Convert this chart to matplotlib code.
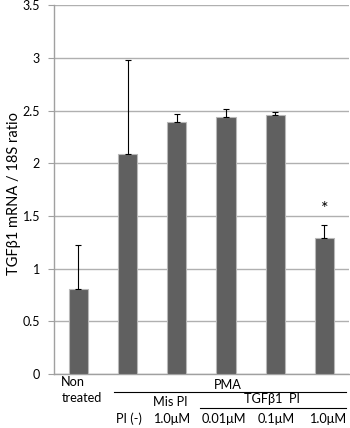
import matplotlib
matplotlib.use("Agg")
import matplotlib.pyplot as plt
import matplotlib.transforms as mtransforms
import numpy as np

plt.rcParams['font.family'] = ['Lato', 'DejaVu Sans']

# values
means = [0.81, 2.09, 2.39, 2.44, 2.46, 1.29]
errs = [0.41, 0.89, 0.08, 0.07, 0.03, 0.12]
dose_labels = ["PI (-)", "1.0\u03bcM", "0.01\u03bcM", "0.1\u03bcM", "1.0\u03bcM"]
dose_x = [1.03, 1.89, 2.95, 4.03, 5.06]
yticks = [0, 0.5, 1, 1.5, 2, 2.5, 3, 3.5]
ytick_labels = ["0", "0.5", "1", "1.5", "2", "2.5", "3", "3.5"]

fig = plt.figure(figsize=(3.5, 4.28), dpi=100)
ax = fig.add_axes([0.154, 0.126, 0.843, 0.862])

x = np.arange(len(means))
ax.bar(x, means, width=0.39, color='#606060', edgecolor='#b8b8b8', linewidth=0.8, zorder=3)
ax.errorbar(x, means, yerr=[np.zeros(len(errs)), errs], fmt='none',
            ecolor='black', elinewidth=0.8, capsize=2.5, capthick=0.8, zorder=4)
ax.text(5, 1.57, "*", ha='center', va='center', fontsize=13)

ax.set_xlim(-0.5, 5.5)
ax.set_ylim(0, 3.5)
ax.set_yticks(yticks)
ax.set_yticklabels(ytick_labels, fontsize=9)
ax.set_xticks([])
ax.yaxis.grid(True, color='#b0b0b0', linewidth=1.0, zorder=0)
ax.set_axisbelow(True)
for s in ['top', 'right']:
    ax.spines[s].set_visible(False)
for s in ['left', 'bottom']:
    ax.spines[s].set_color('#a0a0a0')
    ax.spines[s].set_linewidth(1.0)
ax.tick_params(axis='y', length=4, color='#a0a0a0', pad=6)
ax.set_ylabel("TGF\u03b21 mRNA / 18S ratio", fontsize=10.5)
ax.yaxis.set_label_coords(-0.136, 0.49)
ax.yaxis.label.set_va('center')

# labels under the axis, x in data, y in figure fraction
trans = mtransforms.blended_transform_factory(ax.transData, fig.transFigure)

def fy(p):
    return 1 - p / 428.0

fs = 9.2
ax.text(-0.35, fy(382), "Non", transform=trans, ha='left', va='center', fontsize=fs)
ax.text(-0.35, fy(398), "treated", transform=trans, ha='left', va='center', fontsize=fs)
ax.text(3.03, fy(385), "PMA", transform=trans, ha='center', va='center', fontsize=fs)
ax.plot([0.73, 5.45], [fy(392.3), fy(392.3)], transform=trans, color='black', lw=0.8, clip_on=False)
ax.text(1.86, fy(401.5), "Mis PI", transform=trans, ha='center', va='center', fontsize=fs)
ax.text(3.94, fy(399), "TGF\u03b21  PI", transform=trans, ha='center', va='center', fontsize=fs)
ax.plot([2.47, 5.45], [fy(408.3), fy(408.3)], transform=trans, color='black', lw=0.8, clip_on=False)
for xx, lab in zip(dose_x, dose_labels):
    ax.text(xx, fy(419), lab, transform=trans, ha='center', va='center', fontsize=fs)

fig.savefig("out.png", dpi=100)
